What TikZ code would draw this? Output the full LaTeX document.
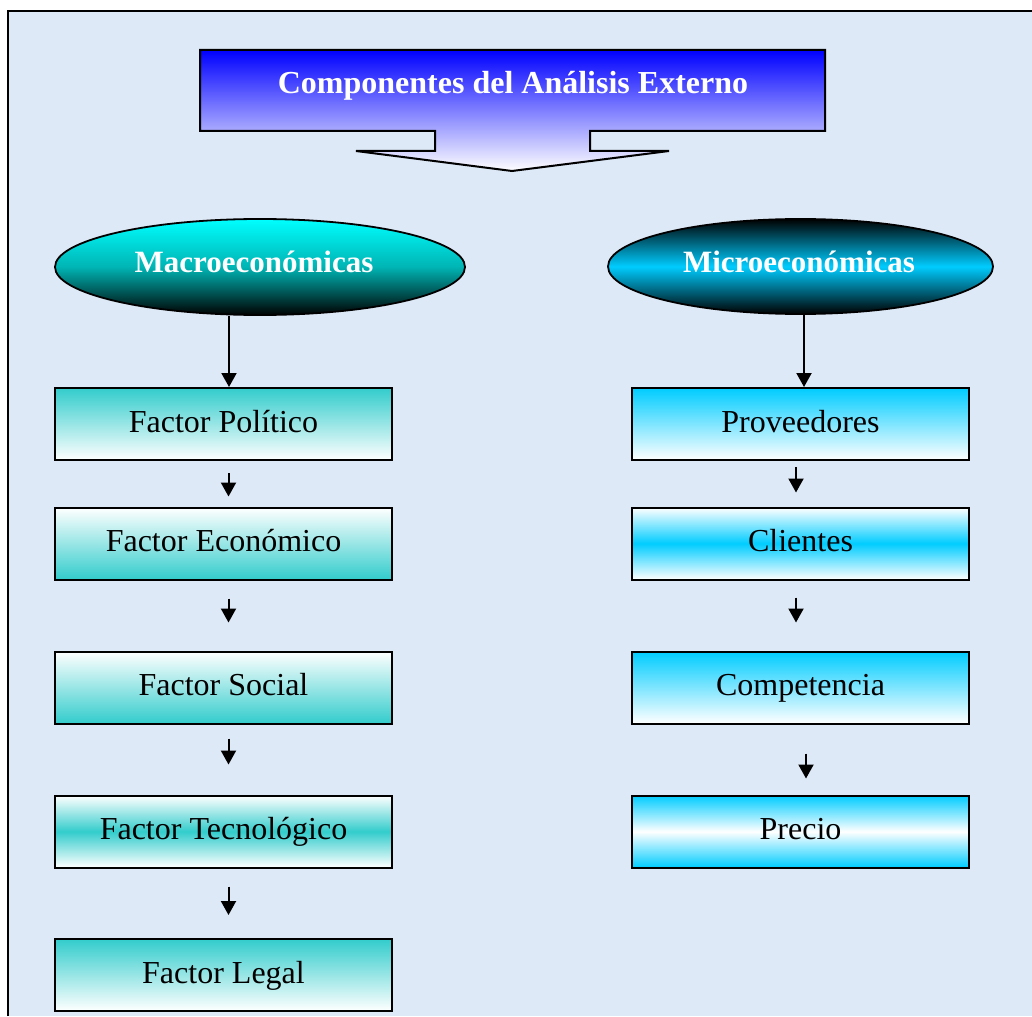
\documentclass[tikz,border=0pt]{standalone}
\usepackage{fontspec}
\setmainfont{Liberation Serif}
\usetikzlibrary{shapes.geometric,arrows.meta}
\definecolor{tealc}{RGB}{51,204,204}
\definecolor{skyc}{RGB}{0,204,255}
\definecolor{bgc}{RGB}{221,233,246}
\definecolor{cyanc}{RGB}{0,255,255}
\definecolor{tealmid}{RGB}{0,180,180}
\tikzset{
  box/.style={draw=black, line width=1pt, rectangle, minimum width=168.5pt, minimum height=36pt, inner sep=0pt,
    text height=12pt, text depth=4pt, font=\fontsize{16}{19}\selectfont},
  ell/.style={draw=black, line width=0.9pt, ellipse, inner sep=0pt},
  elltext/.style={text=white, font=\fontsize{15.5}{18}\selectfont\bfseries, inner sep=0pt},
  arr/.style={line width=1pt, -{Triangle[length=7pt,width=7.5pt]}},
  tdown/.style={top color=tealc, bottom color=white},
  tup/.style={top color=white, bottom color=tealc},
  tmid/.style={top color=white, bottom color=white, middle color=tealc},
  sdown/.style={top color=skyc, bottom color=white},
  smid/.style={top color=white, bottom color=white, middle color=skyc},
  sedge/.style={top color=skyc, bottom color=skyc, middle color=white},
}
\begin{document}
\begin{tikzpicture}[x=0.5pt,y=-0.5pt]
\useasboundingbox (0,0) rectangle (1032,1016);
\fill[white] (0,0) rectangle (1032,1016);
\fill[bgc] (8,11) rectangle (1032,1016);
\draw[line width=1pt] (8,1016) -- (8,11) -- (1032,11);

% title callout
\shadedraw[top color=blue, bottom color=white, draw=black, line width=1pt]
  (200,50) -- (825,50) -- (825,131) -- (590,131) -- (590,151) -- (669,151) -- (512,171)
  -- (356,151) -- (435,151) -- (435,131) -- (200,131) -- cycle;
\node[text=white, font=\fontsize{16}{19}\selectfont\bfseries, inner sep=0pt] (title) at (513,86) {Componentes del Análisis Externo};

% ellipses
\node[ell, minimum width=205pt, minimum height=48pt, top color=cyanc, bottom color=black, middle color=tealmid] (macro) at (260,267) {};
\node[elltext] (macrot) at (254,262) {Macroeconómicas};
\node[ell, minimum width=192.5pt, minimum height=47.5pt, top color=black, bottom color=black, middle color=skyc] (micro) at (800.5,266.5) {};
\node[elltext] (microt) at (799,262) {Microeconómicas};

% left column
\node[box, tdown] (pol) at (223.5,424) {Factor Político};
\node[box, tup] (eco) at (223.5,543.5) {Factor Económico};
\node[box, tup] (soc) at (223.5,687.5) {Factor Social};
\node[box, tmid] (tec) at (223.5,831.5) {Factor Tecnológico};
\node[box, tdown] (leg) at (223.5,975) {Factor Legal};

% right column
\node[box, sdown] (prov) at (800.5,424) {Proveedores};
\node[box, smid] (cli) at (800.5,543.5) {Clientes};
\node[box, sdown] (comp) at (800.5,687.5) {Competencia};
\node[box, sedge] (pre) at (800.5,831.5) {Precio};

% connectors left
\draw[arr] ([xshift=-15.5pt]macro.south) -- ([xshift=2.75pt]pol.north);
\draw[arr, shorten <=6pt, shorten >=5pt] ([xshift=2.5pt]pol.south) -- ([xshift=2.5pt]eco.north);
\draw[arr, shorten <=9pt, shorten >=14pt] ([xshift=2.5pt]eco.south) -- ([xshift=2.5pt]soc.north);
\draw[arr, shorten <=7pt, shorten >=15pt] ([xshift=2.5pt]soc.south) -- ([xshift=2.5pt]tec.north);
\draw[arr, shorten <=9pt, shorten >=11.5pt] ([xshift=2.5pt]tec.south) -- ([xshift=2.5pt]leg.north);

% connectors right
\draw[arr] ([xshift=1.75pt]micro.south) -- ([xshift=1.75pt]prov.north);
\draw[arr, shorten <=3pt, shorten >=7pt] ([xshift=-2.25pt]prov.south) -- ([xshift=-2.25pt]cli.north);
\draw[arr, shorten <=8.5pt, shorten >=14pt] ([xshift=-2.25pt]cli.south) -- ([xshift=-2.25pt]comp.north);
\draw[arr, shorten <=14.5pt, shorten >=8pt] ([xshift=2.75pt]comp.south) -- ([xshift=2.75pt]pre.north);
\end{tikzpicture}
\end{document}
